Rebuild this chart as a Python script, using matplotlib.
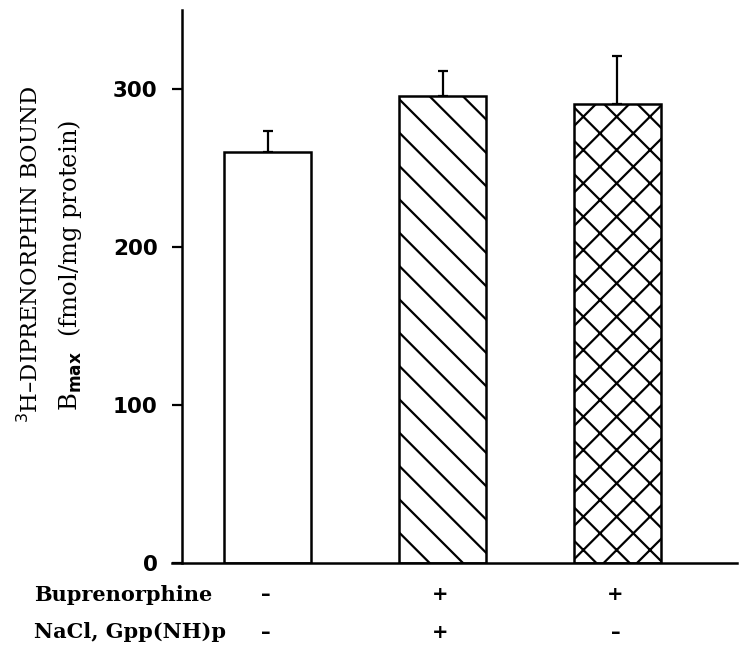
import matplotlib
matplotlib.use("Agg")
import matplotlib.pyplot as plt

# Data
groups = ["control", "bup_nacl_gpp", "bup"]
bmax = [260, 295.5, 290.5]
sem = [13.5, 16, 30.5]
hatches = ["", "\\", "x"]
row_labels = ["Buprenorphine", "NaCl, Gpp(NH)p"]
buprenorphine = ["\u2013", "+", "+"]
nacl_gpp = ["\u2013", "+", "\u2013"]
yticks = [0, 100, 200, 300]

W, H = 744, 653
plt.rcParams["hatch.linewidth"] = 1.6
fig = plt.figure(figsize=(W / 100, H / 100), dpi=100)
ax = fig.add_axes([182 / W, 1 - 563 / H, (737 - 182) / W, (563 - 10) / H])

x = list(range(len(bmax)))
ax.bar(x, bmax, width=0.5, color="white", edgecolor="black", linewidth=1.8,
       hatch=hatches, zorder=2)
ax.errorbar(x, bmax, yerr=[[0] * len(sem), sem], fmt="none", ecolor="black",
            elinewidth=1.6, capsize=3.5, capthick=1.6, zorder=1)

ax.set_xlim(-0.489, 2.683)
ax.set_ylim(0, 350)
ax.set_yticks(yticks)
ax.set_yticklabels([str(t) for t in yticks], fontfamily="DejaVu Sans",
                   fontweight="bold", fontsize=15.5)
ax.tick_params(axis="y", direction="out", length=7.5, width=1.6, pad=10)
ax.tick_params(axis="x", bottom=False, labelbottom=False)
for s in ["top", "right"]:
    ax.spines[s].set_visible(False)
ax.spines["left"].set_linewidth(1.8)
ax.spines["bottom"].set_linewidth(1.8)
ax.spines["bottom"].set_bounds(-0.489 - 10 / 175, 2.683)
ax.spines["bottom"].set_clip_on(False)

# Y label (two lines)
fig.text(30 / W, 1 - 254 / H, "$^{3}$H\u2013DIPRENORPHIN BOUND",
         rotation=90, ha="center", va="center", fontfamily="DejaVu Serif",
         fontsize=16.3)
fig.text(70 / W, 1 - 265 / H, r"B$_{\mathbf{max}}$  (fmol/mg protein)",
         rotation=90, ha="center", va="center", fontfamily="DejaVu Serif",
         fontsize=17.5)

# Condition rows below the axis
row_y = [595, 632]
for ry, lab, signs in zip(row_y, row_labels, [buprenorphine, nacl_gpp]):
    fig.text(34 / W, 1 - ry / H, lab, ha="left", va="center",
             fontfamily="DejaVu Serif", fontweight="bold", fontsize=15)
    for xi, s in zip(x, signs):
        px = ax.transData.transform((xi, 0))[0]
        fig.text(px / W - 2 / W, 1 - ry / H, s, ha="center", va="center",
                 fontfamily="DejaVu Sans", fontweight="bold", fontsize=14)

fig.savefig("out.png", dpi=100)
